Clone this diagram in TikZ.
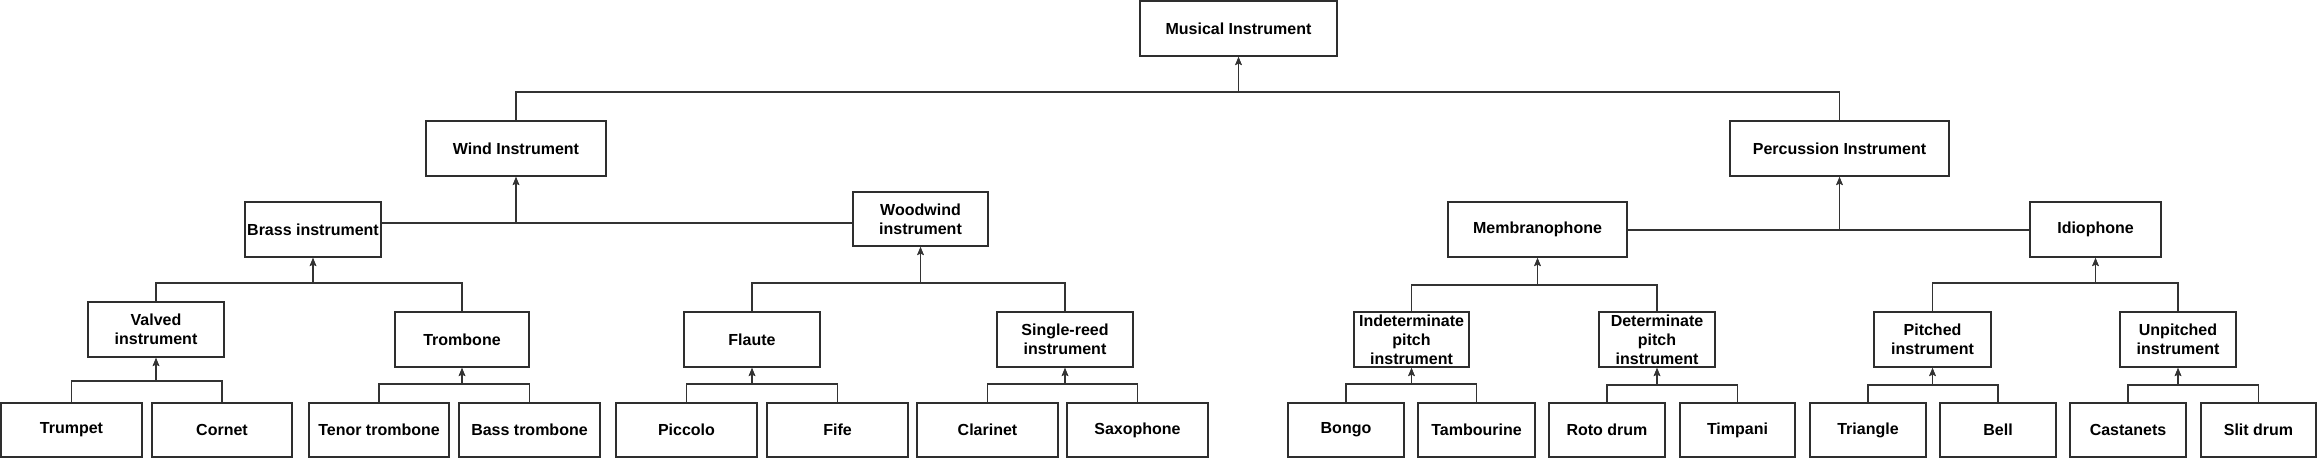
\documentclass[tikz,border=0pt]{standalone}
\usepackage{fontspec}
\setmainfont{Liberation Sans}
\usetikzlibrary{arrows.meta}
\definecolor{bordc}{gray}{0.18}
\definecolor{edgec}{gray}{0.2}
\tikzset{
  box/.style={draw=bordc, line width=2pt, fill=white, inner sep=0pt, align=center,
    font=\bfseries\fontsize{16}{19}\selectfont},
  edge/.style={draw=edgec, line width=1.3pt, -{Stealth[length=8pt,width=6.5pt,inset=1.5pt]}}
}
\newcommand\mkbox[6]{\node[box, minimum width={#3pt-#2pt}, minimum height={#5pt-#4pt}]
  (#1) at ({(#2+#3)/2},{(#4+#5)/2}) {#6};}
\newcommand\kid[3]{\draw[edge] (#1.north) |- (#2) -- (#3.south);}
\begin{document}
\begin{tikzpicture}[x=1pt,y=-1pt]
\useasboundingbox (0,0) rectangle (2317,458);
\fill[white] (0,0) rectangle (2317,458);
% level 0-2
\mkbox{mus}{1140}{1337}{1}{56}{Musical Instrument}
\mkbox{wind}{426}{606}{121}{176}{Wind Instrument}
\mkbox{perc}{1730}{1949}{121}{176}{Percussion Instrument}
\mkbox{brass}{245}{381}{202}{257}{Brass instrument}
\mkbox{wood}{853}{988}{192}{246}{Woodwind\\instrument}
\mkbox{memb}{1448}{1627}{202}{257}{Membranophone}
\mkbox{idio}{2030}{2161}{202}{257}{Idiophone}
% level 3
\mkbox{valved}{88}{224}{302}{357}{Valved\\instrument}
\mkbox{tromb}{395}{529}{312}{367}{Trombone}
\mkbox{flaute}{684}{820}{312}{367}{Flaute}
\mkbox{single}{997}{1133}{312}{367}{Single-reed\\instrument}
\mkbox{indet}{1354}{1469}{312}{367}{Indeterminate\\pitch\\instrument}
\mkbox{det}{1599}{1715}{312}{367}{Determinate\\pitch\\instrument}
\mkbox{pitched}{1874}{1991}{312}{367}{Pitched\\instrument}
\mkbox{unpitched}{2120}{2236}{312}{367}{Unpitched\\instrument}
% leaves
\mkbox{trumpet}{1}{142}{403}{457}{Trumpet}
\mkbox{cornet}{152}{292}{403}{457}{Cornet}
\mkbox{tenor}{309}{449}{403}{457}{Tenor trombone}
\mkbox{basst}{459}{600}{403}{457}{Bass trombone}
\mkbox{piccolo}{616}{757}{403}{457}{Piccolo}
\mkbox{fife}{767}{908}{403}{457}{Fife}
\mkbox{clarinet}{917}{1058}{403}{457}{Clarinet}
\mkbox{sax}{1067}{1208}{403}{457}{Saxophone}
\mkbox{bongo}{1288}{1404}{403}{457}{Bongo}
\mkbox{tamb}{1418}{1535}{403}{457}{Tambourine}
\mkbox{roto}{1549}{1665}{403}{457}{Roto drum}
\mkbox{timp}{1680}{1795}{403}{457}{Timpani}
\mkbox{tri}{1810}{1926}{403}{457}{Triangle}
\mkbox{bell}{1940}{2056}{403}{457}{Bell}
\mkbox{cast}{2070}{2186}{403}{457}{Castanets}
\mkbox{slit}{2201}{2316}{403}{457}{Slit drum}
% junctions
\path (mus.south) ++(0,35) coordinate (jtop);
\path (wind.south) ++(0,46) coordinate (jwind);
\path (perc.south) ++(0,53) coordinate (jperc);
\path (brass.south) ++(0,25) coordinate (jbrass);
\path (wood.south) ++(0,36) coordinate (jwood);
\path (memb.south) ++(0,27) coordinate (jmemb);
\path (idio.south) ++(0,25) coordinate (jidio);
\path (valved.south) ++(0,23) coordinate (jvalved);
\path (tromb.south) ++(0,16) coordinate (jtromb);
\path (flaute.south) ++(0,16) coordinate (jflaute);
\path (single.south) ++(0,16) coordinate (jsingle);
\path (indet.south) ++(0,16) coordinate (jindet);
\path (det.south) ++(0,17) coordinate (jdet);
\path (pitched.south) ++(0,17) coordinate (jpitched);
\path (unpitched.south) ++(0,17) coordinate (junpitched);
% edges
\kid{wind}{jtop}{mus}
\kid{perc}{jtop}{mus}
\draw[edge] (brass.east |- jwind) -- (jwind) -- (wind.south);
\draw[edge] (wood.west |- jwind) -- (jwind) -- (wind.south);
\draw[edge] (memb.east |- jperc) -- (jperc) -- (perc.south);
\draw[edge] (idio.west |- jperc) -- (jperc) -- (perc.south);
\kid{valved}{jbrass}{brass}
\kid{tromb}{jbrass}{brass}
\kid{flaute}{jwood}{wood}
\kid{single}{jwood}{wood}
\kid{indet}{jmemb}{memb}
\kid{det}{jmemb}{memb}
\kid{pitched}{jidio}{idio}
\kid{unpitched}{jidio}{idio}
\kid{trumpet}{jvalved}{valved}
\kid{cornet}{jvalved}{valved}
\kid{tenor}{jtromb}{tromb}
\kid{basst}{jtromb}{tromb}
\kid{piccolo}{jflaute}{flaute}
\kid{fife}{jflaute}{flaute}
\kid{clarinet}{jsingle}{single}
\kid{sax}{jsingle}{single}
\kid{bongo}{jindet}{indet}
\kid{tamb}{jindet}{indet}
\kid{roto}{jdet}{det}
\kid{timp}{jdet}{det}
\kid{tri}{jpitched}{pitched}
\kid{bell}{jpitched}{pitched}
\kid{cast}{junpitched}{unpitched}
\kid{slit}{junpitched}{unpitched}
\end{tikzpicture}
\end{document}
